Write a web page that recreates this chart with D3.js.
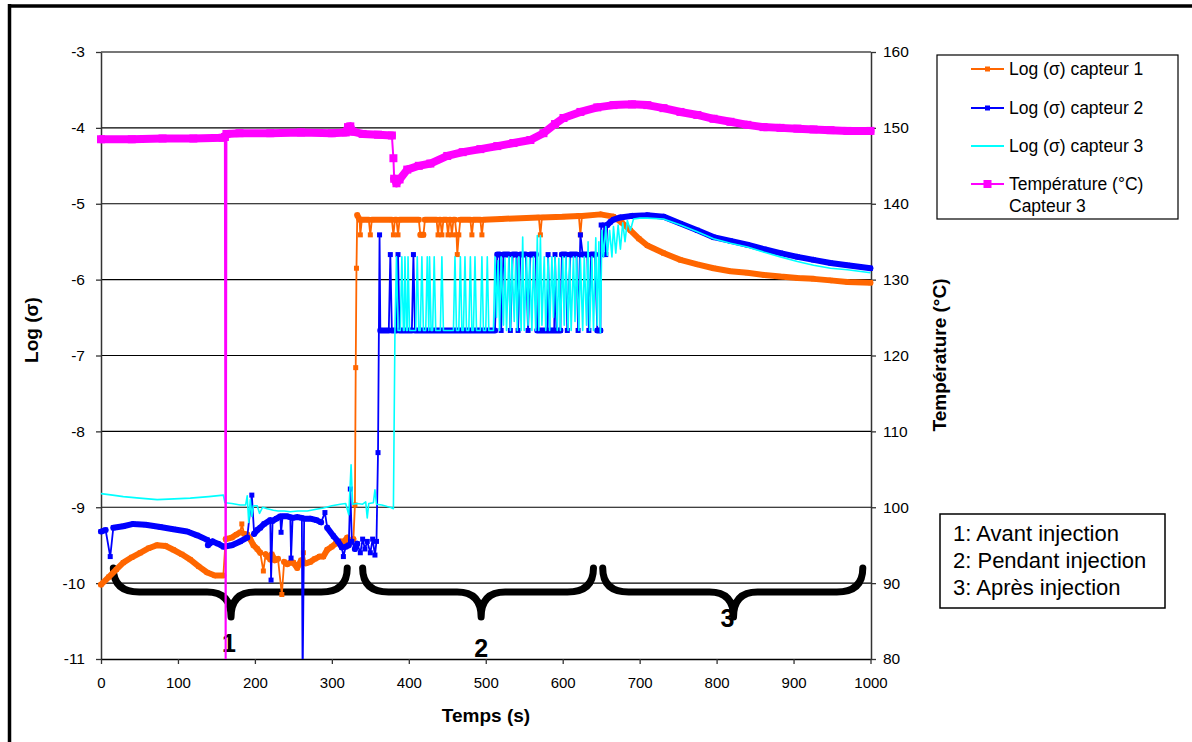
<!DOCTYPE html>
<html><head><meta charset="utf-8">
<script src="https://cdn.jsdelivr.net/npm/d3@7"></script>
<style>body{margin:0;background:#fff;} svg{display:block;} text{font-family:"Liberation Sans",Arial,sans-serif;}</style>
</head><body>
<svg id="chart" width="1192" height="742"></svg>
<script>
// ---------- data ----------
const xTicks = [0,100,200,300,400,500,600,700,800,900,1000];
const yLeftTicks = [-3,-4,-5,-6,-7,-8,-9,-10,-11];
const yRightTicks = [160,150,140,130,120,110,100,90,80];

const seriesNames = ["Log (σ) capteur 1","Log (σ) capteur 2","Log (σ) capteur 3","Température (°C)|Capteur 3"];

const capteur1 = [[0,-10.02],[10,-9.92],[20,-9.82],[29,-9.73],[40,-9.66],[51,-9.6],[62,-9.54],[73,-9.5],[84,-9.51],[94,-9.56],[105,-9.62],[116,-9.69],[127,-9.78],[138,-9.86],[148,-9.9],[159,-9.9],
[162,-9.42],[170,-9.4],[176,-9.36],[181,-9.33],[183,-9.22],[186,-9.35],[190,-9.36],[194,-9.42],[198,-9.5],[203,-9.55],[207,-9.6],[211,-9.84],[214,-9.62],[218,-9.66],[220,-9.69],[222,-9.62],[226,-9.7],[230,-9.68],[235,-10.15],[238,-9.72],[242,-9.75],[246,-9.73],[250,-9.73],[255,-9.8],[260,-9.7],[263,-9.6],[266,-9.74],[272,-9.72],[278,-9.68],[284,-9.65],[289,-9.65],[294,-9.56],[300,-9.52],[305,-9.48],[311,-9.45],[316,-9.45],[320,-9.4],[324,-9.46],[328,-9.42],
[330,-8.97],[331,-7.16],[332,-5.85],[333,-5.15],[336,-5.21],[337,-5.41],[339,-5.21],[348,-5.21],[350,-5.41],[352,-5.21],[378,-5.21],[380,-5.41],[382,-5.21],[384,-5.21],[386,-5.41],[388,-5.21],[413,-5.21],[415,-5.41],[417,-5.41],[419,-5.41],[421,-5.21],[436,-5.21],[438,-5.41],[440,-5.21],[441,-5.21],[443,-5.41],[445,-5.21],[449,-5.21],[451,-5.41],[453,-5.21],[454,-5.21],[456,-5.41],[458,-5.21],[460,-5.21],[462,-5.41],[463,-5.67],[465,-5.41],[467,-5.21],[480,-5.21],[482,-5.41],[484,-5.21],[493,-5.21],[495,-5.41],[497,-5.21],[520,-5.2],[569,-5.18],[571,-5.41],[573,-5.18],[600,-5.17],[621,-5.16],[623,-5.41],[625,-5.16],[649,-5.14],[666,-5.17],
[677,-5.25],[688,-5.35],[699,-5.46],[710,-5.55],[731,-5.65],[753,-5.74],[775,-5.8],[796,-5.85],[818,-5.89],[840,-5.91],[862,-5.94],[883,-5.96],[905,-5.98],[926,-5.99],[948,-6.01],[970,-6.03],[1000,-6.04]];

const capteur2 = [[0,-9.32],[6,-9.3],[12,-9.65],[16,-9.27],[29,-9.25],[42,-9.22],[58,-9.23],[77,-9.26],[94,-9.29],[112,-9.32],[125,-9.37],[138,-9.43],[139,-9.5],[145,-9.45],[152,-9.48],[159,-9.52],[170,-9.5],[181,-9.45],[190,-9.4],[196,-8.84],[199,-9.35],[203,-9.3],[207,-9.27],[212,-9.22],[220,-9.17],[221,-9.96],[223,-9.18],[228,-9.15],[233,-9.12],[234,-9.33],[236,-9.12],[242,-9.12],[246,-9.13],[247,-9.67],[249,-9.14],[255,-9.13],[261,-9.14],[262,-11.3],[264,-9.15],[272,-9.15],[280,-9.17],[286,-9.2],[291,-9.07],[294,-9.27],[302,-9.38],[308,-9.45],[313,-9.53],[315,-9.65],[318,-9.52],[322,-9.5],[324,-8.76],[326,-9.45],[330,-9.55],[333,-9.48],[337,-9.6],[340,-9.42],[343,-9.55],[346,-9.45],[350,-9.6],[353,-9.42],[356,-9.63],[358,-9.45],
[360,-8.28],[362,-5.41],[363,-6.67],[374,-6.67],[376,-5.67],[378,-6.67],[384,-6.67],[386,-5.67],[388,-6.67],[404,-6.67],[406,-5.67],[408,-6.67],[512,-6.67],[515,-5.67],[518,-5.67],[520,-6.67],[523,-5.67],[530,-5.67],[532,-6.67],[535,-5.67],[540,-5.67],[542,-6.67],[545,-5.67],[552,-5.67],[555,-6.67],[558,-5.67],[565,-5.67],[567,-6.67],[580,-6.67],[581,-5.67],[583,-6.67],[589,-6.67],[590,-5.67],[592,-6.67],[597,-6.67],[599,-5.67],[604,-5.67],[606,-6.67],[610,-5.67],[618,-5.67],[620,-6.67],[623,-5.41],[626,-5.67],[632,-5.67],[634,-6.67],[637,-5.67],[642,-5.67],[645,-6.67],[649,-6.67],[650,-5.28],[652,-5.67],[654,-5.28],[656,-5.67],[658,-5.28],[662,-5.24],[666,-5.21],
[675,-5.18],[690,-5.16],[710,-5.15],[731,-5.17],[753,-5.26],[775,-5.35],[796,-5.44],[818,-5.49],[840,-5.54],[862,-5.6],[883,-5.65],[905,-5.7],[926,-5.74],[948,-5.78],[970,-5.81],[1000,-5.85]];

const capteur3 = [[0,-8.82],[15,-8.84],[29,-8.86],[50,-8.88],[73,-8.9],[95,-8.89],[116,-8.88],[140,-8.86],[159,-8.84],[161,-8.94],[170,-8.95],[181,-8.97],[188,-8.97],[190,-8.85],[192,-9.2],[194,-8.9],[196,-9.12],[198,-8.98],[203,-8.98],[206,-9.08],[210,-9.0],[216,-9.02],[224,-9.04],[230,-9.05],[238,-9.05],[246,-9.06],[256,-9.05],[268,-9.05],[278,-9.03],[289,-9.01],[300,-8.98],[311,-8.96],[318,-8.95],[322,-9.1],[325,-8.44],[327,-8.96],[333,-8.95],[340,-8.96],[344,-8.93],[346,-9.14],[348,-8.95],[354,-8.94],[356,-8.77],[358,-8.96],[365,-8.97],[372,-8.99],[376,-9.0],[380,-9.02],
[382,-6.67],[384,-5.7],[386,-6.67],[389,-6.67],[391,-5.7],[393,-6.67],[394,-6.67],[395,-5.7],[397,-6.67],[398,-6.67],[399,-5.7],[401,-6.67],[409,-6.67],[411,-5.7],[413,-6.67],[415,-6.67],[417,-5.7],[419,-6.67],[422,-6.67],[424,-5.7],[426,-6.67],[427,-5.7],[429,-6.67],[431,-6.67],[433,-5.7],[435,-6.67],[441,-6.67],[443,-5.7],[445,-6.67],[458,-6.67],[460,-5.7],[462,-6.67],[465,-6.67],[467,-5.7],[469,-6.67],[471,-6.67],[473,-5.7],[475,-6.67],[478,-6.67],[480,-5.7],[482,-6.67],[484,-6.67],[486,-5.7],[488,-6.67],[493,-6.67],[495,-5.7],[497,-6.67],[500,-6.67],[502,-5.7],[504,-6.67],
[510,-6.67],[512,-5.7],[514,-6.5],[516,-5.75],[518,-6.67],[520,-5.7],[523,-6.6],[525,-5.72],[527,-6.67],[530,-5.7],[532,-6.67],[534,-5.7],[537,-6.55],[539,-5.72],[541,-6.67],[543,-5.7],[546,-6.67],[548,-5.44],[550,-6.67],[553,-5.7],[555,-6.6],[557,-5.72],[560,-6.67],[562,-5.7],[565,-6.67],[567,-5.42],[569,-6.67],[571,-5.42],[573,-6.6],[576,-5.7],[578,-6.67],[581,-5.72],[583,-6.67],[586,-5.7],[588,-6.5],[590,-5.7],[593,-6.67],[595,-5.72],[597,-6.67],[600,-5.7],[602,-6.6],[604,-5.7],[607,-6.67],[609,-5.72],[611,-6.67],[614,-5.7],[616,-6.55],[618,-5.7],[621,-6.67],[623,-5.72],[626,-6.67],[628,-5.7],[631,-6.6],[633,-5.5],[635,-6.67],[638,-5.7],[640,-6.67],[643,-5.45],[645,-6.6],[647,-5.5],[649,-6.7],[651,-5.35],[653,-5.7],[656,-5.3],[658,-5.68],[661,-5.35],[664,-5.7],[666,-5.3],[669,-5.65],[672,-5.28],[675,-5.6],[678,-5.25],[681,-5.5],[684,-5.22],[688,-5.35],[692,-5.2],
[700,-5.19],[710,-5.19],[731,-5.2],[753,-5.28],[775,-5.37],[796,-5.46],[818,-5.52],[840,-5.57],[862,-5.64],[883,-5.7],[905,-5.76],[926,-5.81],[948,-5.85],[970,-5.87],[1000,-5.91]];

const temperature = [[0,148.5],[40,148.5],[80,148.6],[120,148.6],[158,148.7],[161,148.8],[162,77],[163,149.2],[180,149.3],[220,149.3],[260,149.4],[300,149.3],[318,149.4],[321,150.1],[324,150.2],[327,149.5],[340,149.2],[360,149.1],[378,149.0],[380,146.0],[381,143.3],[384,142.7],[388,143.2],[398,144.5],[413,145.0],[428,145.3],[450,146.3],[470,146.8],[493,147.2],[515,147.6],[536,148.0],[558,148.4],[575,149.3],[590,150.5],[601,151.3],[623,152.1],[645,152.7],[666,153.0],[690,153.1],[710,153.0],[731,152.6],[753,152.1],[775,151.7],[796,151.2],[818,150.8],[840,150.4],[861,150.1],[883,150.0],[905,149.9],[926,149.8],[948,149.7],[970,149.6],[1000,149.6]];

const phaseLabels = ["1","2","3"];
const phaseStart = [16, 340, 652];
const phaseEnd = [320, 640, 990];
const phaseMid = [169, 494, 822];
const phaseNotes = ["1: Avant injection","2: Pendant injection","3: Après injection"];

// ---------- drawing ----------
const svg = d3.select("#chart");
const x = d3.scaleLinear().domain([0,1000]).range([101,870.5]);
const yL = d3.scaleLinear().domain([-11,-3]).range([659,52]);
const yR = d3.scaleLinear().domain([80,160]).range([659,52]);

svg.append("defs").append("clipPath").attr("id","plotclip")
  .append("rect").attr("x",90).attr("y",40).attr("width",795).attr("height",619);

// outer frame
svg.append("line").attr("x1",9.5).attr("x2",9.5).attr("y1",4).attr("y2",742).attr("stroke","#000").attr("stroke-width",3.5);
svg.append("line").attr("x1",8).attr("x2",1192).attr("y1",6).attr("y2",6).attr("stroke","#000").attr("stroke-width",3.5);

// gridlines
svg.append("g").selectAll("line").data(yLeftTicks.filter(v=>v!==-3 && v!==-11)).join("line")
  .attr("x1",101).attr("x2",871).attr("y1",d=>yL(d)).attr("y2",d=>yL(d))
  .attr("stroke","#000").attr("stroke-width",1.2);
svg.append("line").attr("x1",101).attr("x2",871).attr("y1",yL(-3)).attr("y2",yL(-3)).attr("stroke","#777").attr("stroke-width",2);

function styleAxis(g, size){
  g.selectAll("path.domain").attr("stroke","#333").attr("stroke-width",1.5);
  g.selectAll(".tick line").attr("stroke","#333").attr("stroke-width",1.3);
  g.selectAll("text").attr("font-family","Liberation Sans, Arial, sans-serif").attr("font-size",size).attr("fill","#000");
}
const gL = svg.append("g").attr("transform","translate(101,0)")
  .call(d3.axisLeft(yL).tickValues(yLeftTicks).tickFormat(d=>String(d)).tickSize(5).tickSizeOuter(0).tickPadding(11));
styleAxis(gL, 15.5);
const gB = svg.append("g").attr("transform","translate(0,659)")
  .call(d3.axisBottom(x).tickValues(xTicks).tickFormat(d=>String(d)).tickSize(5).tickSizeOuter(0).tickPadding(13));
styleAxis(gB, 15);
gB.select("path.domain").attr("stroke","#000");
const gR = svg.append("g").attr("transform","translate(871,0)")
  .call(d3.axisRight(yR).tickValues(yRightTicks).tickFormat(d=>String(d)).tickSize(5).tickSizeOuter(0).tickPadding(7));
styleAxis(gR, 15.5);

// axis titles
svg.append("text").attr("transform","translate(38,330) rotate(-90)").attr("text-anchor","middle")
  .attr("font-weight","bold").attr("font-size",19).text("Log (σ)");
svg.append("text").attr("transform","translate(946,355) rotate(-90)").attr("text-anchor","middle")
  .attr("font-weight","bold").attr("font-size",19).text("Température (°C)");
svg.append("text").attr("x",486).attr("y",722).attr("text-anchor","middle")
  .attr("font-weight","bold").attr("font-size",19).text("Temps (s)");

// braces
const bTop = 568, bMid = 592, bTip = 617, rEnd = 26, rTip = 24;
const braceG = svg.append("g");
phaseLabels.forEach((lab,i)=>{
  const x0 = x(phaseStart[i]), x1 = x(phaseEnd[i]), xm = x(phaseMid[i]);
  const d = `M${x0},${bTop} Q${x0},${bMid} ${x0+rEnd},${bMid} L${xm-rTip},${bMid} Q${xm},${bMid} ${xm},${bTip} Q${xm},${bMid} ${xm+rTip},${bMid} L${x1-rEnd},${bMid} Q${x1},${bMid} ${x1},${bTop}`;
  braceG.append("path").attr("d",d).attr("fill","none").attr("stroke","#000").attr("stroke-width",7)
    .attr("stroke-linecap","round").attr("stroke-linejoin","round");
});
const labelBase = [652, 657, 627];
const labelShift = [-2, 0, -6];
phaseLabels.forEach((lab,i)=>{
  svg.append("text").attr("x",x(phaseMid[i])+labelShift[i]).attr("y",labelBase[i]).attr("text-anchor","middle")
    .attr("font-weight","bold").attr("font-size",25).text(lab);
});

// series
function drawSeries(data, ys, color, thinW, thickW, mSize){
  const g = svg.append("g").attr("clip-path","url(#plotclip)");
  const line = d3.line().x(d=>x(d[0])).y(d=>ys(d[1]));
  g.append("path").datum(data).attr("d",line).attr("fill","none").attr("stroke",color)
    .attr("stroke-width",thinW).attr("stroke-linejoin","round");
  if (thickW){
    let dstr = "";
    for (let i=1;i<data.length;i++){
      const px=x(data[i-1][0]), py=ys(data[i-1][1]), qx=x(data[i][0]), qy=ys(data[i][1]);
      if (Math.abs(qy-py) <= 2.5 + 1.5*Math.abs(qx-px)) dstr += `M${px},${py}L${qx},${qy}`;
    }
    g.append("path").attr("d",dstr).attr("fill","none").attr("stroke",color)
      .attr("stroke-width",thickW).attr("stroke-linecap","round").attr("stroke-linejoin","round");
  }
  if (mSize){
    g.selectAll("rect").data(data).join("rect")
      .attr("x",d=>x(d[0])-mSize/2).attr("y",d=>ys(d[1])-mSize/2)
      .attr("width",mSize).attr("height",mSize).attr("fill",color);
  }
}
const colors = ["#FF6600","#0000FF","#00FFFF","#FF00FF"];
drawSeries(capteur1, yL, colors[0], 1.8, 6, 5);
drawSeries(capteur2, yL, colors[1], 1.8, 6, 5);
drawSeries(capteur3, yL, colors[2], 1.6, 0, 0);
drawSeries(temperature, yR, colors[3], 2, 8, 8);

// legend 1
const lg = svg.append("g");
lg.append("rect").attr("x",937).attr("y",55).attr("width",241).attr("height",164)
  .attr("fill","#fff").attr("stroke","#000").attr("stroke-width",1.2);
const legY = [69,108,146,184];
const legMarker = [5,5,0,8];
seriesNames.forEach((nm,i)=>{
  lg.append("line").attr("x1",971).attr("x2",1004).attr("y1",legY[i]).attr("y2",legY[i])
    .attr("stroke",colors[i]).attr("stroke-width",2);
  if (legMarker[i]) lg.append("rect").attr("x",987.5-legMarker[i]/2).attr("y",legY[i]-legMarker[i]/2)
    .attr("width",legMarker[i]).attr("height",legMarker[i]).attr("fill",colors[i]);
  nm.split("|").forEach((part,j)=>{
    lg.append("text").attr("x",1009).attr("y",legY[i]+6+j*22).attr("font-size",17.5).text(part);
  });
});

// legend 2
const lg2 = svg.append("g");
lg2.append("rect").attr("x",940).attr("y",514).attr("width",225).attr("height",94)
  .attr("fill","#fff").attr("stroke","#000").attr("stroke-width",1.5);
phaseNotes.forEach((t,i)=>{
  lg2.append("text").attr("x",953).attr("y",541+i*27).attr("font-size",22).text(t);
});
</script>
</body></html>
